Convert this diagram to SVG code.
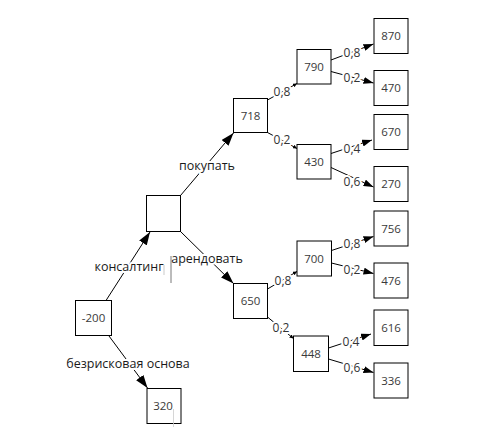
<svg xmlns="http://www.w3.org/2000/svg" width="497" height="448" viewBox="0 0 497 448">
<style>
.box{fill:#fff;stroke:#000;stroke-width:1}
.num{font-family:"Open Sans","Liberation Sans",sans-serif;font-size:11.5px;fill:#3a3a3a;text-anchor:middle}
.edge{stroke:#000;stroke-width:1;fill:none}
.lbl{font-family:"Open Sans","Liberation Sans",sans-serif;font-size:12px;fill:#333;text-anchor:middle;paint-order:stroke;stroke:#fff;stroke-width:4px;stroke-linejoin:round}
.main{fill:#1a1a1a;font-size:12.5px}
</style>
<defs>
<marker id="aBig" markerUnits="userSpaceOnUse" markerWidth="13" markerHeight="9" refX="13" refY="4.5" orient="auto"><path d="M0,0 L13,4.5 L0,9 z" fill="#000"/></marker>
<marker id="aMid" markerUnits="userSpaceOnUse" markerWidth="10" markerHeight="7" refX="10" refY="3.5" orient="auto"><path d="M0,0 L10,3.5 L0,7 z" fill="#000"/></marker>
<marker id="aSm" markerUnits="userSpaceOnUse" markerWidth="4" markerHeight="4" refX="4" refY="2" orient="auto"><path d="M0,0 L4,2 L0,4 z" fill="#000"/></marker>
</defs>
<rect width="497" height="448" fill="#fff"/>
<g id="connectors">
<line class="edge" x1="106" y1="300.5" x2="150" y2="232" marker-end="url(#aBig)"/>
<line class="edge" x1="180.5" y1="231.5" x2="233.5" y2="283.5" marker-end="url(#aBig)"/>
<line class="edge" x1="109" y1="336" x2="147.5" y2="388" marker-end="url(#aBig)"/>
<line class="edge" x1="180.5" y1="195.5" x2="233.5" y2="133" marker-end="url(#aBig)"/>
<line class="edge" x1="267.5" y1="100" x2="297" y2="83.5" marker-end="url(#aSm)"/>
<line class="edge" x1="267.5" y1="132.5" x2="297" y2="148.5" marker-end="url(#aSm)"/>
<line class="edge" x1="331" y1="60" x2="373.5" y2="44" marker-end="url(#aMid)"/>
<line class="edge" x1="331" y1="71.5" x2="373.5" y2="83" marker-end="url(#aMid)"/>
<line class="edge" x1="331" y1="153.5" x2="372" y2="140" marker-end="url(#aMid)"/>
<line class="edge" x1="331" y1="167.5" x2="373.5" y2="187" marker-end="url(#aMid)"/>
<line class="edge" x1="267.5" y1="289" x2="297" y2="271.5" marker-end="url(#aSm)"/>
<line class="edge" x1="267.5" y1="317" x2="293.5" y2="338.5" marker-end="url(#aSm)"/>
<line class="edge" x1="331.5" y1="250.5" x2="373.5" y2="236.5" marker-end="url(#aMid)"/>
<line class="edge" x1="331.5" y1="263" x2="373.5" y2="273.5" marker-end="url(#aMid)"/>
<line class="edge" x1="328.5" y1="348" x2="371" y2="334" marker-end="url(#aMid)"/>
<line class="edge" x1="328.5" y1="359" x2="373.5" y2="372.5" marker-end="url(#aMid)"/>
<text class="lbl main" x="129" y="271">консалтинг</text>
<text class="lbl main" x="207" y="262.5">арендовать</text>
<text class="lbl main" x="128" y="368">безрисковая основа</text>
<text class="lbl main" x="207" y="170">покупать</text>
<text class="lbl" x="282" y="96">0,8</text>
<text class="lbl" x="282" y="143.5">0,2</text>
<text class="lbl" x="352" y="56.5">0,8</text>
<text class="lbl" x="352" y="81.5">0,2</text>
<text class="lbl" x="352" y="152.5">0,4</text>
<text class="lbl" x="352" y="186">0,6</text>
<text class="lbl" x="283" y="285">0,8</text>
<text class="lbl" x="281" y="332">0,2</text>
<text class="lbl" x="352" y="247.5">0,8</text>
<text class="lbl" x="352" y="274">0,2</text>
<text class="lbl" x="351" y="345.5">0,4</text>
<text class="lbl" x="352" y="371.5">0,6</text>
<line x1="171" y1="256" x2="171" y2="283" stroke="#555" stroke-width="0.8"/>
<line x1="164" y1="265" x2="164" y2="275" stroke="#bbb" stroke-width="0.8"/>
</g>
<g id="n_root"><rect class="box" x="75.5" y="300.5" width="36" height="35"/><text class="num" x="93.5" y="322">-200</text></g>
<g id="n_decision"><rect class="box" x="146.5" y="195.5" width="34" height="36"/></g>
<g id="n_320"><rect class="box" x="147" y="388.5" width="34" height="35"/><text class="num" x="163" y="410">320</text><line x1="173.5" y1="409" x2="173.5" y2="427" stroke="#ccc" stroke-width="0.8"/></g>
<g id="n_718"><rect class="box" x="233.5" y="98.5" width="34" height="34"/><text class="num" x="250.5" y="119.5">718</text></g>
<g id="n_650"><rect class="box" x="233.5" y="283.5" width="34" height="35"/><text class="num" x="250.5" y="305">650</text></g>
<g id="n_790"><rect class="box" x="297" y="49.5" width="34" height="34.5"/><text class="num" x="314" y="70.5">790</text></g>
<g id="n_430"><rect class="box" x="297" y="144.5" width="34" height="34.5"/><text class="num" x="314" y="165.5">430</text></g>
<g id="n_700"><rect class="box" x="297" y="241" width="34.5" height="35"/><text class="num" x="314" y="262.5">700</text></g>
<g id="n_448"><rect class="box" x="293.5" y="336" width="35" height="35.5"/><text class="num" x="311" y="357.5">448</text></g>
<g id="n_870"><rect class="box" x="374" y="18.5" width="34" height="35"/><text class="num" x="391" y="40">870</text></g>
<g id="n_470"><rect class="box" x="374" y="70.5" width="34" height="35"/><text class="num" x="391" y="92">470</text></g>
<g id="n_670"><rect class="box" x="374" y="114.5" width="34" height="35"/><text class="num" x="391" y="136">670</text></g>
<g id="n_270"><rect class="box" x="374" y="166.5" width="34" height="35"/><text class="num" x="391" y="188">270</text></g>
<g id="n_756"><rect class="box" x="374" y="211" width="34" height="35"/><text class="num" x="391" y="232.5">756</text></g>
<g id="n_476"><rect class="box" x="374" y="263" width="34" height="35"/><text class="num" x="391" y="284.5">476</text></g>
<g id="n_616"><rect class="box" x="374" y="310" width="34" height="35.5"/><text class="num" x="391" y="331.5">616</text></g>
<g id="n_336"><rect class="box" x="374" y="363" width="34" height="35"/><text class="num" x="391" y="384.5">336</text></g>
</svg>
